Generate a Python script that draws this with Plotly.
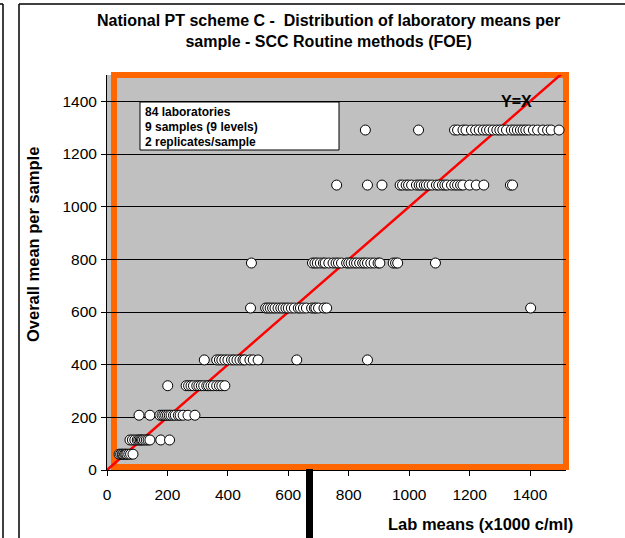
import plotly.graph_objects as go

# Overall mean per sample (one level per sample) and the lab means observed at each level
sample_levels = [60, 114, 208, 320, 418, 615, 786, 1082, 1291]
lab_means = [
    [40, 45, 50, 53, 58, 62, 66, 72, 78, 86],
    [76, 84, 92, 100, 105, 110, 114, 118, 124, 130, 136, 142, 178, 207],
    [106, 142, 175, 182, 188, 194, 200, 206, 212, 220, 226, 236, 242, 252, 268, 291],
    [201, 262, 270, 278, 286, 297, 304, 312, 320, 330, 336, 344, 352, 363, 372, 380, 390],
    [322, 363, 372, 380, 390, 400, 412, 420, 430, 440, 450, 456, 473, 484, 500, 628, 862],
    [475, 525, 532, 540, 548, 556, 566, 575, 583, 592, 600, 610, 620, 633, 640, 650, 660, 677, 686,
     691, 700, 718, 727, 1402],
    [478, 680, 688, 696, 706, 716, 722, 734, 748, 758, 766, 776, 793, 800, 808, 818, 826, 836, 846,
     853, 862, 873, 884, 897, 903, 947, 955, 962, 1087],
    [760, 862, 910, 970, 978, 990, 998, 1008, 1024, 1033, 1040, 1050, 1057, 1066, 1076, 1090, 1098,
     1110, 1118, 1126, 1140, 1151, 1160, 1170, 1178, 1200, 1222, 1247, 1335, 1342],
    [855, 1031, 1150, 1160, 1178, 1188, 1206, 1220, 1232, 1245, 1256, 1266, 1278, 1290, 1300, 1310,
     1322, 1338, 1348, 1358, 1368, 1377, 1386, 1396, 1411, 1425, 1443, 1458, 1470, 1496],
]
identity_line = [0, 1600]
tick_values = [0, 200, 400, 600, 800, 1000, 1200, 1400]
info_lines = ["84 laboratories", "9 samples (9 levels)", "2 replicates/sample"]

W, H = 625, 538
L, R, T, B = 107, 566, 75, 470          # plot area in pixels
X_MAX, Y_MAX = 1519, 1500

FONT = "Liberation Sans, Arial, sans-serif"


def px(x):
    return (x - L) / (R - L)


def py(y):
    return (B - y) / (B - T)


xs, ys = [], []
for level, means in zip(sample_levels, lab_means):
    xs.extend(means)
    ys.extend([level] * len(means))

fig = go.Figure()
fig.add_trace(go.Scatter(
    x=identity_line, y=identity_line, mode="lines",
    line=dict(color="#FF0000", width=2.5), hoverinfo="skip", showlegend=False,
))
fig.add_trace(go.Scatter(
    x=xs, y=ys, mode="markers",
    marker=dict(size=10, color="white", line=dict(color="black", width=1)),
    showlegend=False,
))

shapes = [
    # orange plot-area frame
    dict(type="rect", xref="paper", yref="paper",
         x0=px(114), x1=px(566), y0=py(467), y1=py(75),
         line=dict(color="#FF6600", width=6), fillcolor="rgba(0,0,0,0)", layer="between"),
    # info box
    dict(type="rect", xref="paper", yref="paper",
         x0=px(140), x1=px(339), y0=py(150), y1=py(102),
         line=dict(color="black", width=1), fillcolor="white", layer="above"),
    # chart frame lines
    dict(type="line", xref="paper", yref="paper", x0=px(3), x1=px(3), y0=py(4), y1=py(540),
         line=dict(color="black", width=1.5)),
    dict(type="line", xref="paper", yref="paper", x0=px(-2), x1=px(3), y0=py(4), y1=py(4),
         line=dict(color="black", width=1.5)),
    dict(type="line", xref="paper", yref="paper", x0=px(19), x1=px(19), y0=py(4), y1=py(540),
         line=dict(color="black", width=1.5)),
    dict(type="line", xref="paper", yref="paper", x0=px(19), x1=px(627), y0=py(4), y1=py(4),
         line=dict(color="black", width=1.5)),
    # black bar below the axis
    dict(type="rect", xref="paper", yref="paper", x0=px(306), x1=px(313), y0=py(540), y1=py(469),
         line=dict(width=0), fillcolor="black", layer="above"),
]

annotations = [
    dict(text="<b>National PT scheme C -  Distribution of laboratory means per<br>"
              "sample - SCC Routine methods (FOE)</b>",
         xref="paper", yref="paper", x=px(328), y=py(31), xanchor="center", yanchor="middle",
         showarrow=False, font=dict(family=FONT, size=16, color="black")),
    dict(text="<b>Overall mean per sample</b>", textangle=-90,
         xref="paper", yref="paper", x=px(33), y=py(245), xanchor="center", yanchor="middle",
         showarrow=False, font=dict(family=FONT, size=16.5, color="black")),
    dict(text="<b>Lab means (x1000 c/ml)</b>",
         xref="paper", yref="paper", x=px(575), y=py(524), xanchor="right", yanchor="middle",
         showarrow=False, font=dict(family=FONT, size=16.5, color="black")),
    dict(text="<b>Y=X</b>",
         xref="paper", yref="paper", x=px(516), y=py(101), xanchor="center", yanchor="middle",
         showarrow=False, font=dict(family=FONT, size=16, color="black")),
]
for i, line in enumerate(info_lines):
    annotations.append(dict(
        text=f"<b>{line}</b>", xref="paper", yref="paper", x=px(143), y=py(112 + 15 * i),
        xanchor="left", yanchor="middle", showarrow=False,
        font=dict(family=FONT, size=12, color="black"),
    ))

axis_common = dict(
    showline=True, linecolor="black", linewidth=1, ticks="outside", ticklen=5,
    tickcolor="black", zeroline=False, tickvals=tick_values,
    tickfont=dict(family=FONT, size=15.5, color="black"), fixedrange=True,
)
fig.update_layout(
    width=W, height=H,
    margin=dict(l=L, r=W - R, t=T, b=H - B, pad=0),
    paper_bgcolor="white", plot_bgcolor="#C0C0C0",
    xaxis=dict(range=[0, X_MAX], showgrid=False, ticklabelstandoff=5, **axis_common),
    yaxis=dict(range=[0, Y_MAX], showgrid=True, gridcolor="black", gridwidth=1,
               ticklabelstandoff=1, **axis_common),
    shapes=shapes, annotations=annotations, showlegend=False,
)

fig.write_html("out.html")
